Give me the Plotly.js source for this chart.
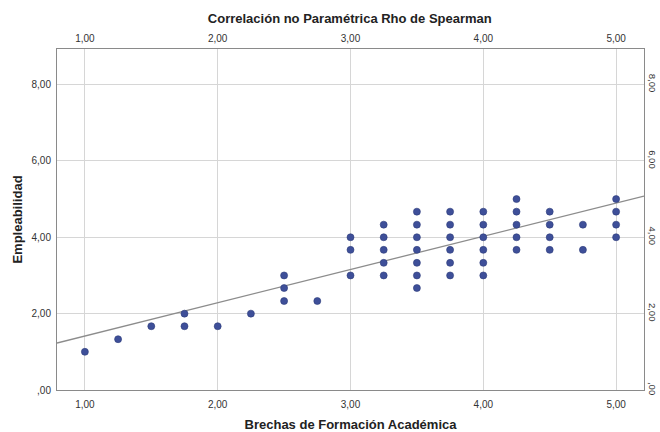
<!DOCTYPE html>
<html><head><meta charset="utf-8">
<script src="https://cdn.plot.ly/plotly-3.0.1.min.js"></script>
<style>html,body{margin:0;padding:0;background:#fff}#chart{width:660px;height:432px}</style>
</head><body><div id="chart"></div>
<script>
// Data: Brechas de Formación Académica (x) vs Empleabilidad (y)
const brechas = [
  1.00, 1.25, 1.50, 1.75, 1.75, 2.00, 2.25,
  2.50, 2.50, 2.50, 2.75,
  3.00, 3.00, 3.00,
  3.25, 3.25, 3.25, 3.25, 3.25,
  3.50, 3.50, 3.50, 3.50, 3.50, 3.50, 3.50,
  3.75, 3.75, 3.75, 3.75, 3.75, 3.75,
  4.00, 4.00, 4.00, 4.00, 4.00, 4.00,
  4.25, 4.25, 4.25, 4.25, 4.25,
  4.50, 4.50, 4.50, 4.50,
  4.75, 4.75,
  5.00, 5.00, 5.00, 5.00
];
const empleabilidad = [
  1.00, 1.33, 1.67, 1.67, 2.00, 1.67, 2.00,
  2.33, 2.67, 3.00, 2.33,
  3.00, 3.67, 4.00,
  3.00, 3.33, 3.67, 4.00, 4.33,
  2.67, 3.00, 3.33, 3.67, 4.00, 4.33, 4.67,
  3.00, 3.33, 3.67, 4.00, 4.33, 4.67,
  3.00, 3.33, 3.67, 4.00, 4.33, 4.67,
  3.67, 4.00, 4.33, 4.67, 5.00,
  3.67, 4.00, 4.33, 4.67,
  3.67, 4.33,
  4.00, 4.33, 4.67, 5.00
];
// Fit line (as drawn in the reference)
const fitIntercept = 0.542;
const fitSlope = 0.871;
// Axes
const xRange = [0.79, 5.21];
const yRange = [0, 8.93];
const xTickVals = [1, 2, 3, 4, 5];
const xTickText = ["1,00", "2,00", "3,00", "4,00", "5,00"];
const yTickVals = [0, 2, 4, 6, 8];
const yTickText = [",00", "2,00", "4,00", "6,00", "8,00"];

const fitX = xRange.slice();
const fitY = fitX.map(v => fitIntercept + fitSlope * v);

const tickFont = {family: "Liberation Sans Narrow, Liberation Sans, Arial", size: 10, color: "#333"};
const rightTickFont = {family: "Liberation Sans Narrow, Liberation Sans, Arial", size: 9.5, color: "#333"};
const titleFont = {family: "Liberation Sans, Arial", size: 13, color: "#222", weight: "bold"};

const traces = [
  {x: fitX, y: fitY, mode: "lines", line: {color: "#8c8c8c", width: 1.3}, hoverinfo: "skip", showlegend: false},
  {x: brechas, y: empleabilidad, mode: "markers", showlegend: false,
   marker: {color: "#3e4f99", size: 7, line: {color: "#2c3a78", width: 0.6}}},
  {x: [null], y: [null], xaxis: "x2", yaxis: "y2", showlegend: false}
];

const gridColor = "#d6d6d6";
const lineColor = "#8a8a8a";
const layout = {
  width: 660, height: 432,
  margin: {l: 57, r: 16, t: 49, b: 42},
  paper_bgcolor: "#fff", plot_bgcolor: "#fff",
  title: {text: "Correlación no Paramétrica Rho de Spearman", font: titleFont, x: 0.53, xanchor: "center", y: 0.958, yanchor: "middle"},
  xaxis: {range: xRange, tickvals: xTickVals, ticktext: xTickText, tickfont: tickFont,
    showgrid: true, gridcolor: gridColor, gridwidth: 1, zeroline: false,
    showline: true, linecolor: lineColor, linewidth: 1, ticks: "", ticklabelstandoff: 5,
    title: {text: "Brechas de Formación Académica", font: titleFont, standoff: 15}},
  yaxis: {range: yRange, tickvals: yTickVals, ticktext: yTickText, tickfont: tickFont,
    showgrid: true, gridcolor: gridColor, gridwidth: 1, zeroline: false,
    showline: true, linecolor: lineColor, linewidth: 1, ticks: "", ticklabelstandoff: 3,
    title: {text: "Empleabilidad", font: titleFont, standoff: 5}},
  xaxis2: {overlaying: "x", side: "top", matches: "x", range: xRange, tickvals: xTickVals, ticktext: xTickText,
    tickfont: tickFont, showgrid: false, zeroline: false, showline: true, linecolor: lineColor, linewidth: 1, ticks: "", ticklabelstandoff: 2},
  yaxis2: {overlaying: "y", side: "right", range: yRange, tickvals: yTickVals, ticktext: yTickText,
    tickfont: rightTickFont, tickangle: 90, showgrid: false, zeroline: false, showline: true, linecolor: lineColor, linewidth: 1, ticks: "", ticklabelstandoff: 0},
  showlegend: false
};
Plotly.newPlot("chart", traces, layout, {displayModeBar: false, staticPlot: true});
</script>
</body></html>
